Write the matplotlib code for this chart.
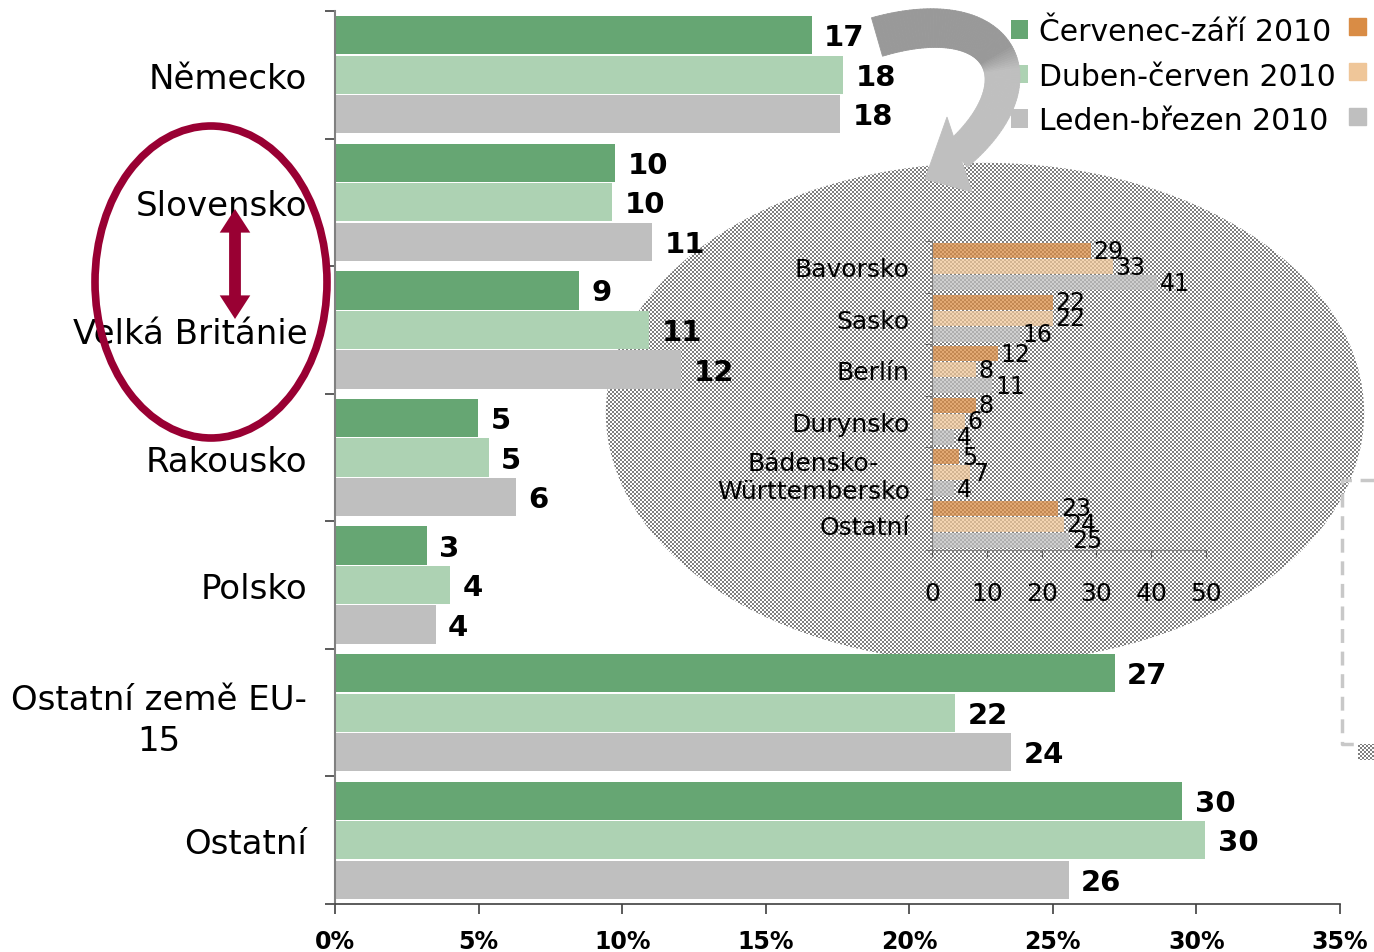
import matplotlib.pyplot as plt
import numpy as np
from matplotlib.collections import PolyCollection
from matplotlib.patches import ArrowStyle, Ellipse, FancyArrowPatch, Polygon, Rectangle
from matplotlib.transforms import IdentityTransform


# main chart: share of countries (%)
COUNTRIES = [
    "Německo",
    "Slovensko",
    "Velká Británie",
    "Rakousko",
    "Polsko",
    "Ostatní země EU-\n15",
    "Ostatní",
]
JUL_SEP = [16.6, 9.75, 8.5, 4.98, 3.2, 27.15, 29.5]
APR_JUN = [17.7, 9.65, 10.95, 5.35, 4.0, 21.6, 30.3]
JAN_MAR = [17.6, 11.05, 12.05, 6.3, 3.5, 23.55, 25.55]
SERIES = ["Červenec-září 2010", "Duben-červen 2010", "Leden-březen 2010"]
X_TICKS = [0, 5, 10, 15, 20, 25, 30, 35]

# inset: German regions (%)
REGIONS = ["Bavorsko", "Sasko", "Berlín", "Durynsko", "Bádensko-\nWürttembersko", "Ostatní"]
REG_JUL_SEP = [29, 22, 12, 8, 5, 23]
REG_APR_JUN = [33, 22, 8, 6, 7, 24]
REG_JAN_MAR = [41, 16, 11, 4, 4, 25]
REG_TICKS = [0, 10, 20, 30, 40, 50]

MAIN_COLORS = ["#66A673", "#ADD2B3", "#BFBFBF"]
REG_COLORS = ["#D98C45", "#EFC699", "#BFBFBF"]
MAROON = "#990033"

W, H = 1374, 953
NARROW = ["Liberation Sans Narrow", "DejaVu Sans"]


def round_half_up(v):
    return int(np.floor(v + 0.5))


fig = plt.figure(figsize=(W / 100, H / 100), dpi=100)

# ---------------- checkered ellipse (behind everything) ----------------
yy, xx = np.mgrid[0:H, 0:W]
on = ((yy // 2 + xx // 2) % 2) == 0
pattern = np.zeros((H, W, 4))
pattern[on] = [0.5, 0.5, 0.5, 1.0]

img = fig.figimage(pattern, xo=0, yo=0, zorder=-2)
img.set_clip_path(Ellipse((985, H - 414), 760, 502, transform=IdentityTransform()))
fig.add_artist(
    Ellipse((985, H - 414), 760, 502, transform=IdentityTransform(),
            fill=False, edgecolor="white", lw=1.2, zorder=-1)
)

img2 = fig.figimage(pattern, xo=0, yo=0, zorder=-2)
img2.set_clip_path(Rectangle((1358, H - 760), 16, 15, transform=IdentityTransform()))

# ---------------- main chart ----------------
ax = fig.add_axes([335 / W, 1 - 905 / H, 1005 / W, 893 / H], zorder=0)
ax.patch.set_alpha(0)

y = np.arange(len(COUNTRIES))
offsets = [-0.31, 0.0, 0.31]

for values, color, off, name in zip([JUL_SEP, APR_JUN, JAN_MAR], MAIN_COLORS, offsets, SERIES):
    ax.barh(y + off, values, height=0.30, color=color, label=name)
    for yi, v in zip(y, values):
        ax.annotate(
            str(round_half_up(v)),
            (v, yi + off),
            xytext=(9, -1.5),
            textcoords="offset points",
            ha="left",
            va="center",
            fontsize=21,
            fontweight="bold",
        )

ax.set_xlim(0, 35)
ax.set_ylim(len(COUNTRIES) - 0.5, -0.5)

ax.set_xticks(X_TICKS, [f"{t}%" for t in X_TICKS])
ax.set_yticks(y, COUNTRIES)
ax.set_yticks(np.arange(len(COUNTRIES) + 1) - 0.5, minor=True)

ax.tick_params(axis="y", which="major", length=0, pad=20, labelsize=24.5)
ax.tick_params(axis="y", which="minor", length=7, width=1.2, color="#404040")
ax.tick_params(axis="x", length=7, width=1.2, color="#404040", pad=11, labelsize=17)

for lbl in ax.get_yticklabels():
    lbl.set_multialignment("center")
    lbl.set_linespacing(1.3)

for lbl in ax.get_xticklabels():
    lbl.set_fontfamily(NARROW)
    lbl.set_fontweight("bold")

ax.spines["top"].set_visible(False)
ax.spines["right"].set_visible(False)
ax.spines["left"].set_color("#808080")
ax.spines["left"].set_linewidth(1.5)
ax.spines["bottom"].set_color("#404040")
ax.spines["bottom"].set_linewidth(1.2)

handles, labels = ax.get_legend_handles_labels()
ax.legend(
    handles,
    labels,
    loc="upper left",
    bbox_to_anchor=(1011 / W, 1 - 18 / H),
    bbox_transform=fig.transFigure,
    frameon=False,
    fontsize=21.5,
    handlelength=0.57,
    handleheight=0.57,
    handletextpad=0.37,
    labelspacing=0.52,
    borderpad=0,
    borderaxespad=0,
)

# ---------------- inset chart ----------------
ax_in = fig.add_axes([932 / W, 1 - 551 / H, 274 / W, 309 / H], zorder=2)
ax_in.patch.set_alpha(0)

yr = np.arange(len(REGIONS))
for values, color, off in zip([REG_JUL_SEP, REG_APR_JUN, REG_JAN_MAR], REG_COLORS, offsets):
    ax_in.barh(yr + off, values, height=0.29, color=color, alpha=0.75)
    for yi, v in zip(yr, values):
        ax_in.annotate(
            str(v),
            (v, yi + off),
            xytext=(2, 0),
            textcoords="offset points",
            ha="left",
            va="center",
            fontsize=17,
        )

ax_in.set_xlim(0, 50)
ax_in.set_ylim(len(REGIONS) - 0.5, -0.5)
ax_in.set_xticks(REG_TICKS)
ax_in.set_yticks(yr, REGIONS)
ax_in.set_yticks(np.arange(len(REGIONS) + 1) - 0.5, minor=True)

ax_in.tick_params(axis="y", which="major", length=0, pad=16, labelsize=18)
ax_in.tick_params(axis="y", which="minor", length=5, color="#606060")
ax_in.tick_params(axis="x", length=5, color="#606060", pad=17, labelsize=18)

for lbl in ax_in.get_yticklabels():
    lbl.set_multialignment("center")

ax_in.spines["top"].set_visible(False)
ax_in.spines["right"].set_visible(False)
ax_in.spines["left"].set_color("#808080")
ax_in.spines["bottom"].set_color("#808080")

# ---------------- decorations on top ----------------
ax_top = fig.add_axes([0, 0, 1, 1], zorder=3)
ax_top.patch.set_alpha(0)
ax_top.axis("off")
ax_top.set_xlim(0, W)
ax_top.set_ylim(H, 0)

# curved block arrow (pixel coordinates, y down)
ctrl = np.array([[877, 38], [1002, 2], [1043, 82], [957, 156]], dtype=float)
t = np.linspace(0, 1, 100)
b = (
    ((1 - t) ** 3)[:, None] * ctrl[0]
    + (3 * (1 - t) ** 2 * t)[:, None] * ctrl[1]
    + (3 * (1 - t) * t ** 2)[:, None] * ctrl[2]
    + (t ** 3)[:, None] * ctrl[3]
)
d = (
    (3 * (1 - t) ** 2)[:, None] * (ctrl[1] - ctrl[0])
    + (6 * (1 - t) * t)[:, None] * (ctrl[2] - ctrl[1])
    + (3 * t ** 2)[:, None] * (ctrl[3] - ctrl[2])
)
d /= np.linalg.norm(d, axis=1)[:, None]
normal = np.column_stack([-d[:, 1], d[:, 0]])
half = 20 - 4 * t
outer = b - normal * half[:, None]
inner = b + normal * half[:, None]

quads = [
    [outer[i], outer[i + 1], inner[i + 1], inner[i]]
    for i in range(len(t) - 1)
]
mid_t = (t[:-1] + t[1:]) / 2
shade = 0.60 + np.clip((mid_t - 0.5) / 0.1, 0, 1) * (0.75 - 0.60)
quad_colors = [(s, s, s) for s in shade]
ax_top.add_collection(
    PolyCollection(quads, facecolors=quad_colors, edgecolors=quad_colors, linewidths=0.6)
)
ax_top.add_patch(
    Polygon([[947, 118], [925, 180], [972, 193]], closed=True,
            facecolor="#BFBFBF", edgecolor="#BFBFBF", lw=0.6)
)

# orange legend squares of the inset (cut by the edge)
for i, color in enumerate(REG_COLORS):
    ax_top.add_patch(Rectangle((1349, 19 + 45 * i), 17, 17, color=color))

# dashed frame at the right edge
ax_top.plot(
    [1374, 1342, 1342, 1362],
    [481, 481, 745, 745],
    color="#C8C8C8",
    lw=2.5,
    ls=(0, (4, 2.5)),
)

# maroon ellipse and double arrow
ax_top.add_patch(Ellipse((211, 283), 232, 312, fill=False, edgecolor=MAROON, lw=5.5))

red_style = ArrowStyle.Simple(head_length=1.7, head_width=2.2, tail_width=0.85)
for tip in [210, 320]:
    ax_top.add_patch(
        FancyArrowPatch(
            (235, 265),
            (235, tip),
            arrowstyle=red_style,
            mutation_scale=10,
            color=MAROON,
            lw=0,
            shrinkA=0,
            shrinkB=0,
        )
    )

fig.savefig("out.png", dpi=100)
